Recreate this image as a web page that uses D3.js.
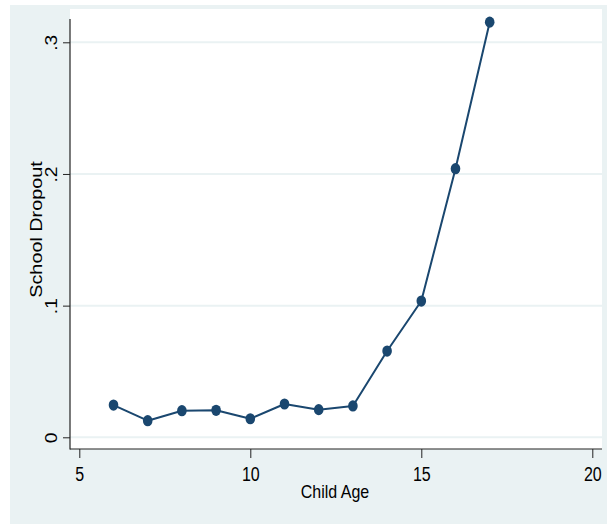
<!DOCTYPE html>
<html>
<head>
<meta charset="utf-8">
<script src="https://cdn.jsdelivr.net/npm/d3@7"></script>
<style>
  html, body { margin: 0; padding: 0; background: #ffffff; }
  svg { display: block; }
  text { font-family: "Liberation Sans", Arial, Helvetica, sans-serif; fill: #000; }
</style>
</head>
<body>
<svg id="chart" width="607" height="524"></svg>
<script>
// School dropout rate by child age
const ages = [6, 7, 8, 9, 10, 11, 12, 13, 14, 15, 16, 17];
const dropout = [0.0245, 0.0126, 0.0202, 0.0205, 0.0141, 0.0253, 0.0210, 0.0238, 0.0655, 0.1035, 0.2040, 0.3153];

const xTicks = [5, 10, 15, 20];
const yTicks = [0, 0.1, 0.2, 0.3];
const yTickLabels = ["0", ".1", ".2", ".3"];

const W = 607, H = 524;
const navy = "#1a476f";
const bluishGray = "#eaf2f3";

// Plot region frame
const plot = { left: 70, right: 602, top: 9, bottom: 449, axisTop: 19 };

const svg = d3.select("#chart");

// Graph region background and white plot region
svg.append("rect").attr("x", 10).attr("y", 5).attr("width", W - 10).attr("height", H - 5)
  .attr("fill", bluishGray);
svg.append("rect").attr("x", plot.left).attr("y", plot.top)
  .attr("width", plot.right - plot.left).attr("height", plot.bottom - plot.top)
  .attr("fill", "#ffffff");

const x = d3.scaleLinear().domain([5, 20]).range([79.3, 592.3]);
const y = d3.scaleLinear().domain([0, 0.3]).range([437.3, 42.3]);

// Horizontal grid lines at the y ticks
svg.append("g").selectAll("line").data(yTicks).join("line")
  .attr("x1", plot.left).attr("x2", plot.right)
  .attr("y1", d => y(d)).attr("y2", d => y(d))
  .attr("stroke", bluishGray).attr("stroke-width", 2);

// X axis
const gx = svg.append("g").attr("transform", `translate(0,${plot.bottom})`)
  .call(d3.axisBottom(x).tickValues(xTicks).tickSize(9).tickSizeOuter(0).tickFormat(d3.format("d")));
gx.select(".domain").remove();
gx.selectAll(".tick line").attr("stroke", "#222").attr("stroke-width", 1);
gx.selectAll(".tick text")
  .attr("y", null).attr("dy", null)
  .attr("transform", "translate(0,31.7) scale(1,1.25)")
  .style("font-size", "16px").style("fill", "#000");

// Y axis with rotated labels
const gy = svg.append("g").attr("transform", `translate(${plot.left},0)`)
  .call(d3.axisLeft(y).tickValues(yTicks).tickSize(7).tickSizeOuter(0)
    .tickFormat((d, i) => yTickLabels[i]));
gy.select(".domain").remove();
gy.selectAll(".tick line").attr("stroke", "#222").attr("stroke-width", 1);
gy.selectAll(".tick text")
  .attr("x", null).attr("dy", null)
  .attr("text-anchor", "middle")
  .attr("transform", "translate(-13,0) scale(1,1.2) rotate(-90)")
  .style("font-size", "16px").style("fill", "#000");

// Axis lines
svg.append("line").attr("x1", plot.left).attr("x2", plot.left)
  .attr("y1", plot.axisTop).attr("y2", plot.bottom + 0.5)
  .attr("stroke", "#222").attr("stroke-width", 1.2);
svg.append("line").attr("x1", plot.left).attr("x2", plot.right)
  .attr("y1", plot.bottom).attr("y2", plot.bottom)
  .attr("stroke", "#222").attr("stroke-width", 1.2);

// Axis titles
svg.append("text")
  .attr("transform", "translate(335,498) scale(1,1.15)")
  .attr("text-anchor", "middle").style("font-size", "16px")
  .text("Child Age");
svg.append("text")
  .attr("transform", "translate(42,229.5) scale(1,1.2) rotate(-90)")
  .attr("text-anchor", "middle").style("font-size", "16.5px")
  .text("School Dropout");

// Connected line with markers
const pts = ages.map((a, i) => ({ age: a, v: dropout[i] }));
svg.append("path").datum(pts)
  .attr("fill", "none").attr("stroke", navy).attr("stroke-width", 2)
  .attr("stroke-linejoin", "round")
  .attr("d", d3.line().x(d => x(d.age)).y(d => y(d.v)));
svg.append("g").selectAll("ellipse").data(pts).join("ellipse")
  .attr("cx", d => x(d.age)).attr("cy", d => y(d.v))
  .attr("rx", 4.8).attr("ry", 5.6)
  .attr("fill", navy);
</script>
</body>
</html>
